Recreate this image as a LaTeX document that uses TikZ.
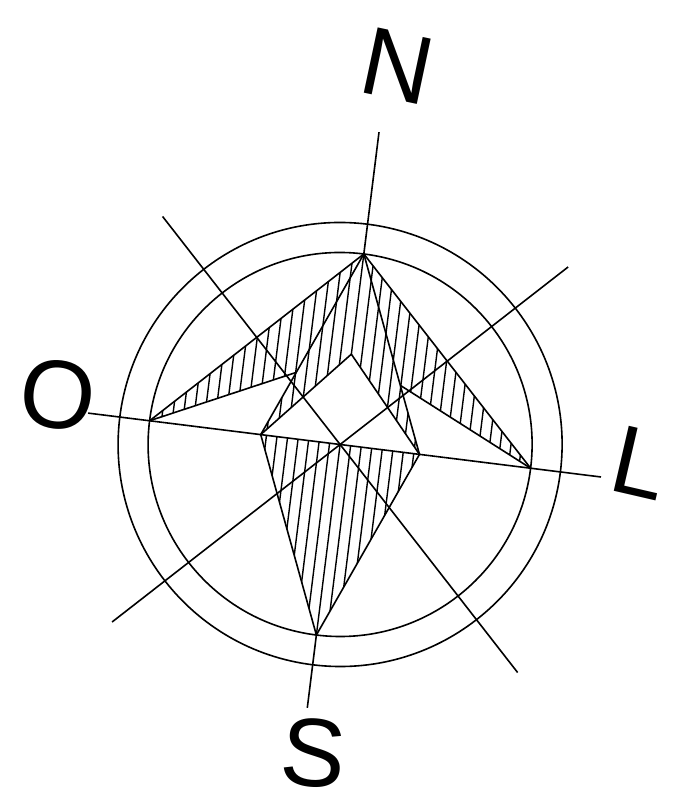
\documentclass[tikz,border=0pt]{standalone}
\usepackage{fontspec}
\setmainfont{Liberation Sans}
\begin{document}
\begin{tikzpicture}[x=1pt,y=1pt,
  line width=1.6pt, line join=miter,
  hatchline/.style={line width=1.4pt},
  lbl/.style={inner sep=0pt, font=\fontsize{97}{97}\selectfont}]
\useasboundingbox (0,0) rectangle (699,810);
\begin{scope}[shift={(340.1,365.5)}, rotate=-7.1]
  % key points of the rose
  \coordinate (C) at (0,0);
  \coordinate (N) at (0,192);
  \coordinate (S) at (0,-192);
  \coordinate (O) at (-192,0);
  \coordinate (L) at (192,0);
  \coordinate (T) at (0,91);
  \coordinate (Wi) at (-80,0);
  \coordinate (Ei) at (80,0);
  \coordinate (A) at (intersection of O--T and N--Wi);
  \coordinate (B) at (intersection of L--T and N--Ei);
  % ends of the axes and diagonals
  \coordinate (nEnd) at (0,314.8);
  \coordinate (sEnd) at (0,-265.4);
  \coordinate (oEnd) at (-254,0);
  \coordinate (lEnd) at (262.9,0);
  \coordinate (d1) at (135:289);
  \coordinate (d2) at (-45:289);
  \coordinate (d3) at (45:289);
  \coordinate (d4) at (225:289);

  % hatching of the shaded faces
  \begin{scope}
    \clip (O) -- (N) -- (L) -- (B) -- (Ei) -- (T) -- (Wi) -- (A) -- cycle;
    \foreach \k in {-20,...,20}
      \draw[hatchline] (\k*10.6,-10) -- (\k*10.6,200);
  \end{scope}
  \begin{scope}
    \clip (Wi) -- (Ei) -- (S) -- cycle;
    \foreach \k in {-10,...,10}
      \draw[hatchline] (\k*10.6,-200) -- (\k*10.6,10);
  \end{scope}

  % rings
  \draw (C) circle[radius=192];
  \draw (C) circle[radius=222];

  % axes and diagonals
  \draw (nEnd) -- (N);
  \draw (S) -- (sEnd);
  \draw (oEnd) -- (lEnd);
  \draw (d1) -- (d2);
  \draw (d3) -- (d4);

  % star outline
  \draw (O) -- (N) -- (L);
  \draw (Wi) -- (S) -- (Ei);
  \draw (Wi) -- (N) -- (Ei);
  \draw (Wi) -- (T) -- (Ei);
  \draw (O) -- (A);
  \draw (L) -- (B);
\end{scope}

% cardinal letters
\node[lbl, rotate=-12] (labN) at (398,744) {N};
\node[lbl, rotate=-7] (labO) at (58,415) {O};
\node[lbl, rotate=-13] (labL) at (640,347) {L};
\node[lbl, rotate=-5] (labS) at (314,57) {S};
\end{tikzpicture}
\end{document}
